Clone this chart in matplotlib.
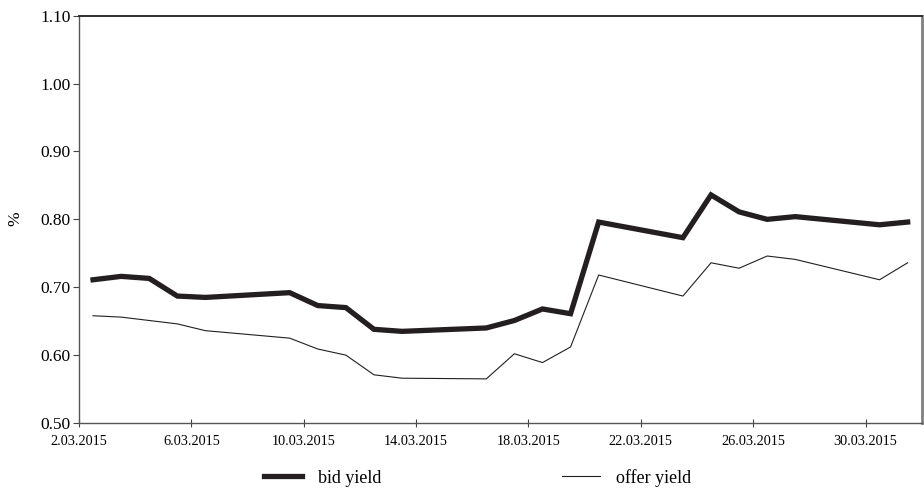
import matplotlib
matplotlib.use("Agg")
import matplotlib.pyplot as plt
import pandas as pd

# trading days, March 2015
days = [2, 3, 4, 5, 6, 9, 10, 11, 12, 13, 16, 17, 18, 19, 20,
        23, 24, 25, 26, 27, 30, 31]
bid_yield = [0.711, 0.716, 0.713, 0.687, 0.685, 0.692, 0.673, 0.670, 0.638, 0.635, 0.640,
             0.651, 0.668, 0.661, 0.796, 0.773, 0.836, 0.811, 0.800, 0.804, 0.792, 0.796]
offer_yield = [0.658, 0.656, 0.651, 0.646, 0.636, 0.625, 0.609, 0.600, 0.571, 0.566, 0.565,
               0.602, 0.589, 0.612, 0.718, 0.687, 0.736, 0.728, 0.746, 0.741, 0.711, 0.736]
tick_days = [2, 6, 10, 14, 18, 22, 26, 30]
y_ticks = [0.50, 0.60, 0.70, 0.80, 0.90, 1.00, 1.10]

plt.rcParams['font.family'] = ['Liberation Serif', 'DejaVu Serif']

dates = pd.to_datetime([f"2015-03-{d:02d}" for d in days]) + pd.Timedelta(hours=12)
ticks = pd.to_datetime([f"2015-03-{d:02d}" for d in tick_days])

fig = plt.figure(figsize=(9.24, 4.91), dpi=100)
ax = fig.add_axes([0.0855, 0.1385, 0.912, 0.8295])

dark = '#231f20'
ax.plot(dates, bid_yield, color=dark, lw=3.8, solid_joinstyle='miter', label='bid yield')
ax.plot(dates, offer_yield, color=dark, lw=0.8, label='offer yield')

ax.set_xlim(pd.Timestamp('2015-03-02'), pd.Timestamp('2015-04-01'))
ax.set_ylim(0.50, 1.10)
ax.set_yticks(y_ticks)
ax.set_yticklabels([f"{v:.2f}" for v in y_ticks], fontsize=12.5)
ax.set_xticks(ticks)
ax.set_xticklabels([f"{d}.03.2015" for d in tick_days], fontsize=10.3)
ax.tick_params(axis='y', direction='out', length=4, width=0.8, color='#444444', pad=2)
ax.tick_params(axis='x', direction='inout', length=6, width=0.8, color='#444444', pad=6)

for side in ['left', 'bottom']:
    ax.spines[side].set_color('#555555')
    ax.spines[side].set_linewidth(1.0)
ax.spines['top'].set_color(dark)
ax.spines['top'].set_linewidth(1.3)
ax.spines['right'].set_color('#808080')
ax.spines['right'].set_linewidth(2.0)

fig.text(0.017, 0.555, '%', rotation=90, fontsize=12.5, ha='center', va='center')

fig.legend(loc='center', bbox_to_anchor=(0.517, 0.027), ncol=2, frameon=False,
           fontsize=13, handlelength=2.1, handletextpad=0.9, columnspacing=10)

fig.savefig('out.png', dpi=100)
